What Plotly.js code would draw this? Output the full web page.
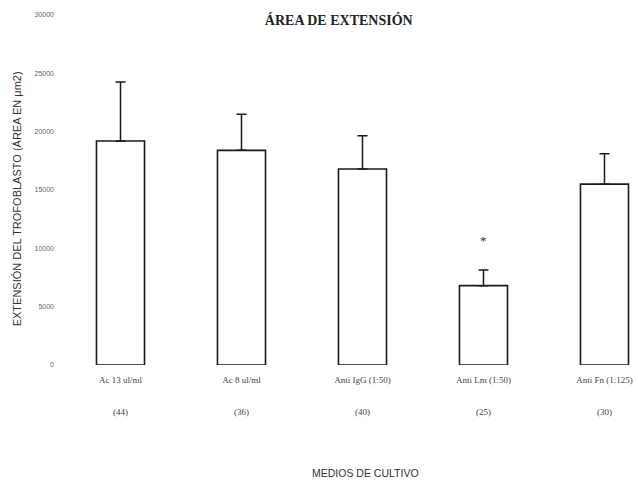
<!DOCTYPE html>
<html>
<head>
<meta charset="utf-8">
<script src="https://cdn.plot.ly/plotly-3.0.1.min.js"></script>
<style>
  html, body { margin: 0; padding: 0; background: #fff; }
  #chart { width: 638px; height: 483px; }
</style>
</head>
<body>
<div id="chart"></div>
<script>
// Culture media tested
const categories = ["Ac 13 ul/ml", "Ac 8 ul/ml", "Anti IgG (1:50)", "Anti Lm (1:50)", "Anti Fn (1:125)"];
// Number of samples per medium
const sampleCounts = ["(44)", "(36)", "(40)", "(25)", "(30)"];
// Mean trophoblast outgrowth area and its standard error
const meanArea = [19200, 18400, 16800, 6800, 15500];
const errorArea = [5050, 3100, 2850, 1350, 2600];
// Significant difference marks
const significance = ["", "", "", "*", ""];
// Y axis ticks
const yTicks = [0, 5000, 10000, 15000, 20000, 25000, 30000];

const xIdx = categories.map((_, i) => i);

const trace = {
  type: "bar",
  x: xIdx,
  y: meanArea,
  marker: { color: "#ffffff", line: { color: "#1a1a1a", width: 1.6 } },
  error_y: { type: "data", array: errorArea, symmetric: false, arrayminus: meanArea.map(() => 0),
             color: "#1a1a1a", thickness: 1.5, width: 5 },
  hoverinfo: "skip"
};

const annotations = [];
sampleCounts.forEach((c, i) => {
  annotations.push({ x: i, y: 0, xref: "x", yref: "y", yshift: -47, text: c, showarrow: false,
    font: { family: "Liberation Serif", size: 9, color: "#444" } });
});
significance.forEach((s, i) => {
  if (s) annotations.push({ x: i, y: meanArea[i] + errorArea[i], xref: "x", yref: "y", yshift: 29,
    text: s, showarrow: false, font: { family: "Liberation Serif", size: 13, color: "#333" } });
});
// x axis title
annotations.push({ x: 0.529, xref: "paper", y: -0.309, yref: "paper", yanchor: "middle",
  text: "MEDIOS DE CULTIVO", showarrow: false,
  font: { family: "Liberation Sans", size: 10.5, color: "#333" } });
// y axis title
annotations.push({ x: -0.074, xref: "paper", xanchor: "center", y: 0.474, yref: "paper", textangle: -90,
  text: "EXTENSIÓN DEL TROFOBLASTO (ÁREA EN μm2)", showarrow: false,
  font: { family: "Liberation Sans", size: 11, color: "#333" } });

const layout = {
  width: 638, height: 483,
  margin: { l: 60, r: 0, t: 15, b: 118 },
  paper_bgcolor: "#fff", plot_bgcolor: "#fff",
  showlegend: false,
  bargap: 0.603,
  title: { text: "<b>ÁREA DE EXTENSIÓN</b>", x: 0.531, xref: "container", xanchor: "center",
           y: 0.958, yref: "container", yanchor: "middle",
           font: { family: "Liberation Serif", size: 14, color: "#222" } },
  xaxis: {
    range: [-0.5, 4.277], tickmode: "array", tickvals: xIdx, ticktext: categories,
    showgrid: false, zeroline: false, showline: false, ticks: "",
    ticklabelstandoff: 8,
    tickfont: { family: "Liberation Serif", size: 9, color: "#444" }
  },
  yaxis: {
    range: [0, 30000], tickmode: "array", tickvals: yTicks, tickformat: "d",
    showgrid: false, zeroline: false, showline: false, ticks: "",
    ticklabelstandoff: 5,
    tickfont: { family: "Liberation Sans", size: 7, color: "#666" }
  },
  annotations: annotations
};

Plotly.newPlot("chart", [trace], layout, { displayModeBar: false, staticPlot: true });
</script>
</body>
</html>
